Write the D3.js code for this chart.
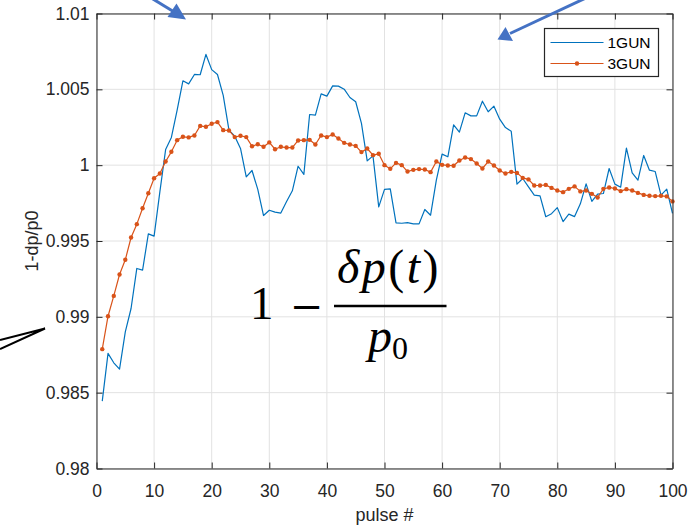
<!DOCTYPE html>
<html>
<head>
<meta charset="utf-8">
<script src="https://cdn.jsdelivr.net/npm/d3@7/dist/d3.min.js"></script>
<style>
    body { margin: 0; background: #fff; }
    #chart-area svg { display: block; }
    .axis text { font-family: "Liberation Sans", Arial, sans-serif; font-size: 17.5px; fill: #262626; }
    .axis path, .axis line { stroke: #262626; }
    .grid line { stroke: #e2e2e2; stroke-width: 1; }
    .title { font-family: "Liberation Sans", Arial, sans-serif; font-size: 18px; fill: #262626; }
    .legend text { font-family: "Liberation Sans", Arial, sans-serif; font-size: 15.5px; fill: #000; }
    .formula { font-family: "Liberation Serif", "DejaVu Serif", serif; fill: #000; }
</style>
</head>
<body>
<div id="chart-area"></div>
<script>
// pulse numbers (x)
const pulses = [
    1, 2, 3, 4, 5, 6, 7, 8, 9, 10, 11, 12, 13, 14, 15, 16, 17, 18, 19, 20,
    21, 22, 23, 24, 25, 26, 27, 28, 29, 30, 31, 32, 33, 34, 35, 36, 37, 38, 39, 40,
    41, 42, 43, 44, 45, 46, 47, 48, 49, 50, 51, 52, 53, 54, 55, 56, 57, 58, 59, 60,
    61, 62, 63, 64, 65, 66, 67, 68, 69, 70, 71, 72, 73, 74, 75, 76, 77, 78, 79, 80,
    81, 82, 83, 84, 85, 86, 87, 88, 89, 90, 91, 92, 93, 94, 95, 96, 97, 98, 99, 100
];

// 1GUN
const gun1 = [
    0.98444, 0.98759, 0.98697, 0.98655, 0.98901, 0.99055, 0.99319, 0.99308, 0.99547, 0.99532,
    0.99824, 1.00103, 1.00183, 1.00363, 1.00556, 1.00536, 1.00598, 1.00596, 1.00730, 1.00630,
    1.00598, 1.00460, 1.00231, 1.00191, 1.00110, 0.99923, 0.99965, 0.99840, 0.99668, 0.99703,
    0.99690, 0.99684, 0.99761, 0.99831, 0.99993, 0.99939, 1.00334, 1.00330, 1.00470, 1.00455,
    1.00523, 1.00521, 1.00501, 1.00446, 1.00418, 1.00275, 1.00028, 1.00061, 0.99725, 0.99840,
    0.99844, 0.99619, 0.99617, 0.99621, 0.99613, 0.99613, 0.99708, 0.99670, 0.99901, 1.00073,
    1.00055, 1.00266, 1.00218, 1.00345, 1.00325, 1.00325, 1.00422, 1.00352, 1.00389, 1.00303,
    1.00248, 1.00224, 0.99875, 0.99912, 0.99857, 0.99802, 0.99798, 0.99660, 0.99680, 0.99720,
    0.99628, 0.99677, 0.99661, 0.99745, 0.99877, 0.99761, 0.99809, 0.99813, 0.99978, 0.99875,
    0.99855, 1.00112, 0.99949, 0.99901, 1.00064, 0.99967, 0.99958, 0.99802, 0.99842, 0.99682
];

// 3GUN
const gun3 = [
    0.98787, 0.99004, 0.99138, 0.99279, 0.99376, 0.99523, 0.99611, 0.99716, 0.99815, 0.99914,
    0.99945, 1.00024, 1.00088, 1.00165, 1.00187, 1.00183, 1.00196, 1.00259, 1.00253, 1.00273,
    1.00284, 1.00231, 1.00229, 1.00185, 1.00194, 1.00185, 1.00125, 1.00138, 1.00121, 1.00150,
    1.00105, 1.00121, 1.00116, 1.00116, 1.00163, 1.00165, 1.00167, 1.00136, 1.00196, 1.00185,
    1.00202, 1.00176, 1.00147, 1.00136, 1.00127, 1.00086, 1.00110, 1.00066, 1.00075, 1.00000,
    0.99976, 1.00015, 1.00000, 0.99958, 0.99969, 0.99974, 0.99971, 0.99954, 1.00024, 1.00002,
    0.99998, 0.99996, 1.00031, 1.00051, 1.00040, 1.00011, 0.99978, 1.00024, 0.99998, 0.99965,
    0.99945, 0.99956, 0.99949, 0.99916, 0.99906, 0.99866, 0.99866, 0.99870, 0.99850, 0.99833,
    0.99822, 0.99844, 0.99860, 0.99827, 0.99833, 0.99811, 0.99787, 0.99844, 0.99853, 0.99846,
    0.99829, 0.99842, 0.99833, 0.99817, 0.99804, 0.99798, 0.99796, 0.99798, 0.99794, 0.99761
];

const seriesNames = ['1GUN', '3GUN'];
const seriesColors = ['#0072BD', '#D95319'];

const xTicks = [0, 10, 20, 30, 40, 50, 60, 70, 80, 90, 100];
const yTicks = [0.98, 0.985, 0.99, 0.995, 1, 1.005, 1.01];
const yTickLabels = ['0.98', '0.985', '0.99', '0.995', '1', '1.005', '1.01'];


class LineChart {
    constructor(parentElement) {
        this.parentElement = parentElement;
        this.initVis();
    }

    initVis() {
        let vis = this;

        const width = 692;
        const height = 527;

        vis.margin = { top: 13.5, right: 19.5, bottom: 58.5, left: 96.5 };

        vis.svg = d3
            .select('#' + vis.parentElement)
            .append('svg')
            .attr('width', width)
            .attr('height', height);

        vis.x = d3.scaleLinear().domain([0, 100])
            .range([vis.margin.left, width - vis.margin.right]);
        vis.y = d3.scaleLinear().domain([0.98, 1.01])
            .range([height - vis.margin.bottom, vis.margin.top]);

        vis.x0 = vis.margin.left;
        vis.x1 = width - vis.margin.right;
        vis.y0 = height - vis.margin.bottom;
        vis.y1 = vis.margin.top;

        // grid
        let grid = vis.svg.append('g').attr('class', 'grid');
        grid.selectAll('.gx').data(xTicks).enter().append('line')
            .attr('x1', d => vis.x(d)).attr('x2', d => vis.x(d))
            .attr('y1', vis.y0).attr('y2', vis.y1);
        grid.selectAll('.gy').data(yTicks).enter().append('line')
            .attr('x1', vis.x0).attr('x2', vis.x1)
            .attr('y1', d => vis.y(d)).attr('y2', d => vis.y(d));

        vis.wrangleData();
    }

    wrangleData() {
        let vis = this;

        vis.displayData = seriesNames.map((name, i) => ({
            name: name,
            color: seriesColors[i],
            values: pulses.map((p, j) => ({ pulse: p, value: (i === 0 ? gun1 : gun3)[j] }))
        }));

        vis.updateVis();
    }

    updateVis() {
        let vis = this;

        let line = d3.line()
            .x(d => vis.x(d.pulse))
            .y(d => vis.y(d.value));

        let lines = vis.svg.append('g');

        lines.selectAll('.series')
            .data(vis.displayData)
            .enter()
            .append('path')
            .attr('class', 'series')
            .attr('d', d => line(d.values))
            .attr('fill', 'none')
            .attr('stroke', d => d.color)
            .attr('stroke-width', 1.2)
            .attr('stroke-linejoin', 'round');

        // markers only on 3GUN
        lines.selectAll('.marker')
            .data(vis.displayData[1].values)
            .enter()
            .append('circle')
            .attr('class', 'marker')
            .attr('cx', d => vis.x(d.pulse))
            .attr('cy', d => vis.y(d.value))
            .attr('r', 2.2)
            .attr('fill', seriesColors[1]);

        // axes, ticks pointing inward on all four sides
        vis.svg.append('g')
            .attr('class', 'axis x-axis')
            .attr('transform', `translate(0, ${vis.y0})`)
            .call(d3.axisBottom(vis.x).tickValues(xTicks).tickSizeInner(-6).tickSizeOuter(0).tickPadding(16));

        vis.svg.append('g')
            .attr('class', 'axis y-axis')
            .attr('transform', `translate(${vis.x0}, 0)`)
            .call(d3.axisLeft(vis.y).tickValues(yTicks).tickFormat((d, i) => yTickLabels[i])
                .tickSizeInner(-6).tickSizeOuter(0).tickPadding(7));

        vis.svg.append('g')
            .attr('class', 'axis')
            .attr('transform', `translate(0, ${vis.y1})`)
            .call(d3.axisTop(vis.x).tickValues(xTicks).tickFormat('').tickSizeInner(-6).tickSizeOuter(0));

        vis.svg.append('g')
            .attr('class', 'axis')
            .attr('transform', `translate(${vis.x1}, 0)`)
            .call(d3.axisRight(vis.y).tickValues(yTicks).tickFormat('').tickSizeInner(-6).tickSizeOuter(0));

        // axis titles
        vis.svg.append('text')
            .attr('class', 'title')
            .attr('x', (vis.x0 + vis.x1) / 2)
            .attr('y', 521)
            .attr('text-anchor', 'middle')
            .text('pulse #');

        vis.svg.append('text')
            .attr('class', 'title')
            .attr('transform', `translate(38, ${(vis.y0 + vis.y1) / 2}) rotate(-90)`)
            .attr('text-anchor', 'middle')
            .text('1-dp/p0');

        vis.drawLegend();
        vis.drawNotes();
    }

    drawLegend() {
        let vis = this;

        let legend = vis.svg.append('g')
            .attr('class', 'legend')
            .attr('transform', 'translate(544.5, 28.5)');

        legend.append('rect')
            .attr('width', 114).attr('height', 48)
            .attr('fill', '#fff').attr('stroke', '#262626').attr('stroke-width', 1.2);

        let item = legend.selectAll('.item')
            .data(vis.displayData)
            .enter()
            .append('g')
            .attr('class', 'item')
            .attr('transform', (d, i) => `translate(0, ${14 + i * 21})`);

        item.append('line')
            .attr('x1', 6).attr('x2', 59)
            .attr('stroke', d => d.color).attr('stroke-width', 1.2);

        item.filter((d, i) => i === 1).append('circle')
            .attr('cx', 32.5).attr('r', 2.2).attr('fill', d => d.color);

        item.append('text')
            .attr('x', 63).attr('dy', '0.36em')
            .text(d => d.name);
    }

    drawNotes() {
        let vis = this;

        // blue pointer arrows
        const arrowBlue = '#4472C4';
        let notes = vis.svg.append('g');

        notes.append('line')
            .attr('x1', 148).attr('y1', -4).attr('x2', 175).attr('y2', 12.5)
            .attr('stroke', arrowBlue).attr('stroke-width', 3);
        notes.append('polygon')
            .attr('points', '186,19.5 167.5,17 176.5,3.5')
            .attr('fill', arrowBlue);

        notes.append('line')
            .attr('x1', 588).attr('y1', -3).attr('x2', 510).attr('y2', 33.5)
            .attr('stroke', arrowBlue).attr('stroke-width', 3);
        notes.append('polygon')
            .attr('points', '497.5,39.5 505.5,27 513,41')
            .attr('fill', arrowBlue);

        // black wedge on the left
        notes.append('path')
            .attr('d', 'M0,340 L45,328.5 L0,349')
            .attr('fill', 'none').attr('stroke', '#000').attr('stroke-width', 2);

        // formula
        let f = notes.append('g').attr('class', 'formula');

        f.append('text')
            .attr('x', 250).attr('y', 319)
            .attr('font-size', 47)
            .text('1');

        f.append('text')
            .attr('x', 290).attr('y', 320)
            .attr('font-family', '"DejaVu Serif", serif')
            .attr('font-size', 40)
            .text('\u2212');

        let num = f.append('text')
            .attr('x', 389).attr('y', 283)
            .attr('text-anchor', 'middle')
            .attr('font-size', 48)
            .attr('letter-spacing', 2.5);
        num.append('tspan').attr('font-style', 'italic').text('\u03B4p');
        num.append('tspan').text('(');
        num.append('tspan').attr('font-style', 'italic').text('t');
        num.append('tspan').text(')');

        f.append('line')
            .attr('x1', 334).attr('x2', 446.5)
            .attr('y1', 306).attr('y2', 306)
            .attr('stroke', '#000').attr('stroke-width', 2.6);

        let den = f.append('text')
            .attr('x', 388).attr('y', 352)
            .attr('text-anchor', 'middle')
            .attr('font-size', 48);
        den.append('tspan').attr('font-style', 'italic').text('p');
        den.append('tspan').attr('font-size', 32).attr('dy', 7).text('0');
    }
}

new LineChart('chart-area');
</script>
</body>
</html>
